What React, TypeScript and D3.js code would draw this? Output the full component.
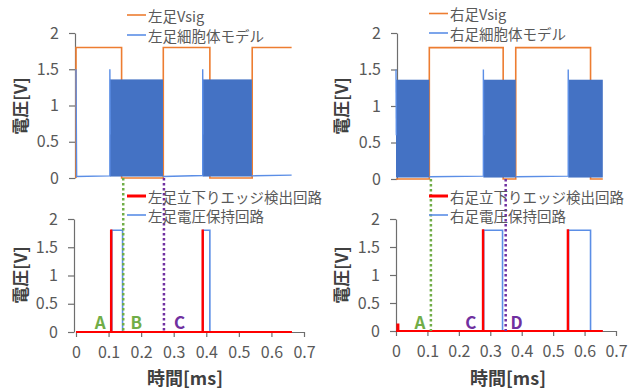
import { useEffect, useRef } from "react";
import * as d3 from "d3";

type Pt = [number, number];

const yTicks = [0, 0.5, 1, 1.5, 2];
const xTicks = [0, 0.1, 0.2, 0.3, 0.4, 0.5, 0.6, 0.7];

// 左足 (left foot)
const leftVsig: Pt[] = [
  [0, 0], [0, 1.8], [0.14, 1.8], [0.14, 0], [0.268, 0], [0.268, 1.8],
  [0.411, 1.8], [0.411, 0], [0.541, 0], [0.541, 1.8], [0.662, 1.8],
];
const leftCell: Pt[][] = [
  [[0, 1.5], [0.002, 0.02], [0.104, 0.03], [0.104, 1.5], [0.105, 0.6]],
  [[0.267, 0.02], [0.389, 0.035], [0.389, 1.5], [0.39, 0.6]],
  [[0.54, 0.03], [0.662, 0.04]],
];
const leftBursts: Pt[] = [[0.104, 0.267], [0.389, 0.54]];
const leftEdge: Pt[] = [
  [0, 0], [0.107, 0], [0.107, 1.8], [0.109, 1.8], [0.109, 0],
  [0.388, 0], [0.388, 1.8], [0.39, 1.8], [0.39, 0], [0.663, 0],
];
const leftHold: Pt[] = [
  [0, 0], [0.11, 0], [0.11, 1.8], [0.143, 1.8], [0.143, 0],
  [0.39, 0], [0.39, 1.8], [0.411, 1.8], [0.411, 0], [0.663, 0],
];
const leftMarks = { green: 0.145, purple: 0.27 };
const leftLabels: [string, number, string][] = [["A", 0.074, "g"], ["B", 0.185, "g"], ["C", 0.318, "p"]];

// 右足 (right foot)
const rightVsig: Pt[] = [
  [0, 0], [0.106, 0], [0.106, 1.8], [0.341, 1.8], [0.341, 0], [0.381, 0],
  [0.381, 1.8], [0.619, 1.8], [0.619, 0], [0.658, 0],
];
const rightCell: Pt[][] = [
  [[0, 1.5], [0.001, 0.6]],
  [[0.106, 0.03], [0.278, 0.04], [0.278, 1.5], [0.279, 0.6]],
  [[0.381, 0.03], [0.548, 0.04], [0.548, 1.5], [0.549, 0.6]],
];
const rightBursts: Pt[] = [[0, 0.106], [0.278, 0.381], [0.548, 0.658]];
const rightEdge: Pt[] = [
  [0, 0], [0.004, 0], [0.004, 0.12], [0.008, 0.12], [0.008, 0],
  [0.276, 0], [0.276, 1.8], [0.278, 1.8], [0.278, 0],
  [0.546, 0], [0.546, 1.8], [0.548, 1.8], [0.548, 0], [0.658, 0],
];
const rightHold: Pt[] = [
  [0, 0], [0.279, 0], [0.279, 1.8], [0.339, 1.8], [0.339, 0],
  [0.549, 0], [0.549, 1.8], [0.619, 1.8], [0.619, 0], [0.658, 0],
];
const rightMarks = { green: 0.111, purple: 0.349 };
const rightLabels: [string, number, string][] = [["A", 0.076, "g"], ["C", 0.238, "p"], ["D", 0.384, "p"]];

const FONT = "'Noto Sans CJK JP', 'Noto Sans', sans-serif";
const ORANGE = "#ED7D31";
const BLUE = "#4472C4";
const LBLUE = "#5b8ee6";
const RED = "#FF0000";
const GREEN = "#70AD47";
const PURPLE = "#7030A0";
const GRAY = "#595959";

export default function App() {
  const svgRef = useRef<SVGSVGElement>(null);

  useEffect(() => {
    if (!svgRef.current) return;
    const svg = d3.select(svgRef.current);
    svg.selectAll("*").remove();

    const panels = [
      {
        side: "左足", xr: [76, 304], top: [178, 33], bot: [332, 219], axisX: 75,
        vsig: leftVsig, cell: leftCell, bursts: leftBursts, edge: leftEdge, hold: leftHold,
        marks: leftMarks, labels: leftLabels, legX: 127, yTitleX: 19, xTitleX: 185,
        legTopY: [15, 35],
      },
      {
        side: "右足", xr: [396, 616], top: [179, 33], bot: [331, 219], axisX: 397,
        vsig: rightVsig, cell: rightCell, bursts: rightBursts, edge: rightEdge, hold: rightHold,
        marks: rightMarks, labels: rightLabels, legX: 429, yTitleX: 340, xTitleX: 508,
        legTopY: [13.5, 33],
      },
    ];

    panels.forEach(p => {
      const x = d3.scaleLinear().domain([0, 0.7]).range(p.xr);
      const yT = d3.scaleLinear().domain([0, 2]).range(p.top);
      const yB = d3.scaleLinear().domain([0, 2]).range(p.bot);

      const styleAxis = (g: any) => {
        g.selectAll("path, line").attr("stroke", "#6e6e6e").attr("stroke-width", 1.2);
        g.selectAll("text").attr("fill", GRAY).attr("font-size", 16).attr("font-family", FONT);
      };

      // ---- top chart ----
      const ax1 = svg.append("g").attr("transform", `translate(${p.axisX},0)`)
        .call(d3.axisLeft(yT).tickValues(yTicks).tickSize(6).tickSizeOuter(0).tickPadding(10).tickFormat(d3.format("")));
      styleAxis(ax1);

      const lineT = d3.line<Pt>().x(d => x(d[0])).y(d => yT(d[1]));
      svg.append("path").attr("d", lineT(p.vsig)).attr("fill", "none")
        .attr("stroke", ORANGE).attr("stroke-width", 1.6);
      svg.selectAll(null).data(p.bursts).enter().append("rect")
        .attr("x", d => x(d[0])).attr("width", d => x(d[1]) - x(d[0]))
        .attr("y", yT(1.36)).attr("height", yT(0.02) - yT(1.36))
        .attr("fill", BLUE);
      p.cell.forEach(seg => {
        svg.append("path").attr("d", lineT(seg)).attr("fill", "none")
          .attr("stroke", LBLUE).attr("stroke-width", 1.4);
      });

      // ---- bottom chart ----
      const ax2 = svg.append("g").attr("transform", `translate(${p.axisX - 1},0)`)
        .call(d3.axisLeft(yB).tickValues(yTicks).tickSize(6).tickSizeOuter(0).tickPadding(10).tickFormat(d3.format("")));
      styleAxis(ax2);
      const ax3 = svg.append("g").attr("transform", `translate(0,${yB(0)})`)
        .call(d3.axisBottom(x).tickValues(xTicks).tickSize(5).tickSizeOuter(0).tickPadding(10).tickFormat(d3.format("")));
      styleAxis(ax3);

      const lineB = d3.line<Pt>().x(d => x(d[0])).y(d => yB(d[1]));
      svg.append("path").attr("d", lineB(p.hold)).attr("fill", "none")
        .attr("stroke", LBLUE).attr("stroke-width", 1.6);
      svg.append("path").attr("d", lineB(p.edge)).attr("fill", "none")
        .attr("stroke", RED).attr("stroke-width", 1.8);

      // dotted guide lines
      [[p.marks.green, GREEN], [p.marks.purple, PURPLE]].forEach(([t, c]) => {
        svg.append("line")
          .attr("x1", x(t as number)).attr("x2", x(t as number))
          .attr("y1", yT(0)).attr("y2", yB(0))
          .attr("stroke", c as string).attr("stroke-width", 2.5)
          .attr("stroke-dasharray", "2.5 2.5");
      });

      // A/B/C/D labels
      p.labels.forEach(([s, t, c]) => {
        svg.append("text").attr("x", x(t)).attr("y", 321)
          .attr("text-anchor", "middle").attr("dominant-baseline", "central")
          .attr("font-family", FONT).attr("font-weight", "bold").attr("font-size", 17)
          .attr("fill", c === "g" ? GREEN : PURPLE).text(s);
      });

      // legends
      const legend = (y: number, color: string, w: number, label: string) => {
        svg.append("line").attr("x1", p.legX).attr("x2", p.legX + 19)
          .attr("y1", y).attr("y2", y).attr("stroke", color).attr("stroke-width", w);
        svg.append("text").attr("x", p.legX + 21).attr("y", y)
          .attr("dominant-baseline", "central").attr("font-family", FONT)
          .attr("font-size", 14.5).attr("fill", GRAY).text(label);
      };
      legend(p.legTopY[0], ORANGE, 1.6, `${p.side}Vsig`);
      legend(p.legTopY[1], LBLUE, 1.6, `${p.side}細胞体モデル`);
      legend(196, RED, 3, `${p.side}立下りエッジ検出回路`);
      legend(215, LBLUE, 1.6, `${p.side}電圧保持回路`);

      // axis titles
      [106, 275].forEach(cy => {
        svg.append("text").attr("transform", `translate(${p.yTitleX},${cy}) rotate(-90)`)
          .attr("text-anchor", "middle").attr("dominant-baseline", "central")
          .attr("font-family", FONT).attr("font-weight", "bold").attr("font-size", 17)
          .attr("fill", "#404040").text("電圧[V]");
      });
      svg.append("text").attr("x", p.xTitleX).attr("y", 377)
        .attr("text-anchor", "middle").attr("dominant-baseline", "central")
        .attr("font-family", FONT).attr("font-weight", "bold").attr("font-size", 18)
        .attr("fill", "#404040").text("時間[ms]");
    });
  }, []);

  return (
    <div style={{ position: "fixed", left: 0, top: 0 }}>
      <svg ref={svgRef} width={630} height={390} style={{ background: "#fff", display: "block" }} />
    </div>
  );
}
